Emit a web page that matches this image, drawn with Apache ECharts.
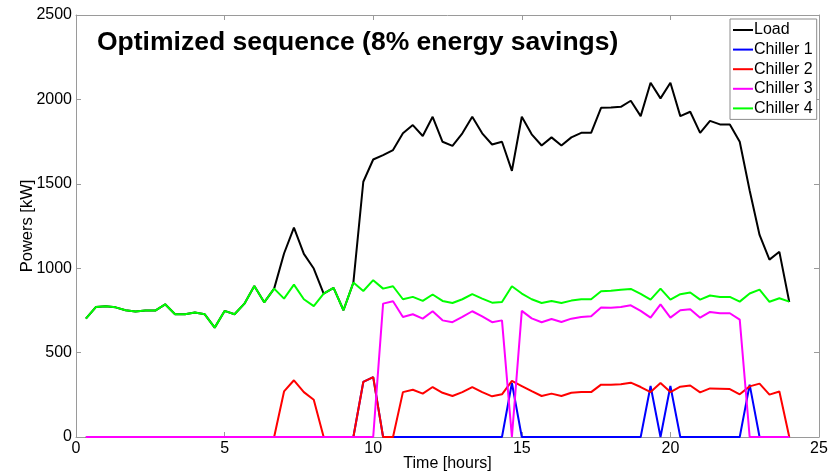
<!DOCTYPE html>
<html>
<head>
<meta charset="utf-8">
<script src="https://cdn.jsdelivr.net/npm/echarts@6/dist/echarts.min.js"></script>
<style>
html,body{margin:0;padding:0;background:#fff;}
#chart{width:838px;height:472px;}
</style>
</head>
<body>
<div id="chart"></div>
<script>
const hours = [0.333,0.667,1.000,1.333,1.667,2.000,2.333,2.667,3.000,3.333,3.667,4.000,
  4.333,4.667,5.000,5.333,5.667,6.000,6.333,6.667,7.000,7.333,7.667,8.000,
  8.333,8.667,9.000,9.333,9.667,10.000,10.333,10.667,11.000,11.333,11.667,12.000,
  12.333,12.667,13.000,13.333,13.667,14.000,14.333,14.667,15.000,15.333,15.667,16.000,
  16.333,16.667,17.000,17.333,17.667,18.000,18.333,18.667,19.000,19.333,19.667,20.000,
  20.333,20.667,21.000,21.333,21.667,22.000,22.333,22.667,23.000,23.333,23.667,24.000];

const load = [701,770,775,768,751,743,749,749,786,727,727,737,
  727,648,747,727,790,895,798,879,1087,1240,1085,998,
  850,883,751,915,1512,1644,1670,1700,1799,1848,1783,1897,
  1749,1725,1799,1897,1799,1733,1749,1577,1897,1793,1727,1775,
  1727,1775,1802,1802,1950,1952,1956,1992,1901,2099,2006,2099,
  1901,1927,1802,1873,1852,1852,1749,1460,1197,1051,1097,800];

const chiller1 = [0,0,0,0,0,0,0,0,0,0,0,0,
  0,0,0,0,0,0,0,0,0,0,0,0,
  0,0,0,0,326,355,0,0,0,0,0,0,
  0,0,0,0,0,0,0,320,0,0,0,0,
  0,0,0,0,0,0,0,0,0,302,0,302,
  0,0,0,0,0,0,0,310,0,0,0,0];

const chiller2 = [0,0,0,0,0,0,0,0,0,0,0,0,
  0,0,0,0,0,0,0,0,270,336,266,221,
  0,0,0,0,326,355,0,0,266,280,257,296,
  262,243,266,296,266,241,253,332,302,272,243,257,
  243,262,266,266,310,310,312,322,296,266,320,266,
  298,305,264,288,286,284,253,300,316,251,270,0];

const chiller3 = [0,0,0,0,0,0,0,0,0,0,0,0,
  0,0,0,0,0,0,0,0,0,0,0,0,
  0,0,0,0,0,0,790,804,711,727,701,745,
  691,680,711,745,715,680,691,0,747,703,680,699,
  681,701,711,715,767,765,770,780,747,707,786,707,
  751,757,707,741,733,733,695,0,0,0,0,0];

const chiller4 = [701,770,775,768,751,743,749,749,786,727,727,737,
  727,648,747,727,790,895,798,879,820,903,816,775,
  850,883,751,915,865,929,879,893,816,830,806,844,
  806,794,816,846,820,796,800,893,850,816,794,806,
  794,808,816,816,863,866,873,877,848,814,879,814,
  846,856,814,838,830,830,802,850,873,801,822,802];

const xTicks = [0, 5, 10, 15, 20, 25];
const yTicks = [0, 500, 1000, 1500, 2000, 2500];

const seriesNames = ['Load', 'Chiller 1', 'Chiller 2', 'Chiller 3', 'Chiller 4'];
const seriesData = [load, chiller1, chiller2, chiller3, chiller4];
const seriesColors = ['#000000', '#0000ff', '#ff0000', '#ff00ff', '#00ff00'];

const FONT = 'Liberation Sans, Arial, sans-serif';
const frame = '#9a9a9a';

const chart = echarts.init(document.getElementById('chart'), null, {renderer: 'canvas'});

function axisCommon(show, margin) {
  return {
    axisLine: {show: true, onZero: false, lineStyle: {color: frame, width: 1}},
    axisTick: {show: true, inside: true, length: 5, lineStyle: {color: frame}},
    splitLine: {show: false},
    axisLabel: {show: show, color: '#000', fontSize: 16, fontFamily: FONT, margin: margin,
      formatter: function (v) { return String(v); }}
  };
}

const option = {
  animation: false,
  backgroundColor: '#ffffff',
  title: {
    text: 'Optimized sequence (8% energy savings)',
    left: 97,
    top: 29,
    padding: 0,
    textStyle: {fontFamily: FONT, fontWeight: 'bold', fontSize: 26.5, color: '#000'}
  },
  legend: {
    orient: 'vertical',
    left: 730,
    top: 19,
    padding: [2, 4, 2, 3],
    icon: 'rect',
    itemWidth: 20,
    itemHeight: 2,
    itemGap: 1.6,
    backgroundColor: '#fff',
    borderColor: '#8c8c8c',
    borderWidth: 1,
    textStyle: {fontFamily: FONT, fontSize: 16, color: '#000', lineHeight: 18, padding: [0, 0, 0, -4]},
    data: seriesNames
  },
  grid: {left: 76, right: 19, top: 15, bottom: 35, containLabel: false, outerBoundsMode: 'none'},
  xAxis: [
    Object.assign({
      type: 'value', min: xTicks[0], max: xTicks[xTicks.length - 1], interval: 5,
      position: 'bottom',
      name: 'Time [hours]', nameLocation: 'middle', nameGap: 19, nameMoveOverlap: false,
      nameTextStyle: {fontFamily: FONT, fontSize: 16, color: '#000'}
    }, axisCommon(true, 4)),
    Object.assign({
      type: 'value', min: xTicks[0], max: xTicks[xTicks.length - 1], interval: 5,
      position: 'top'
    }, axisCommon(false, 4))
  ],
  yAxis: [
    Object.assign({
      type: 'value', min: yTicks[0], max: yTicks[yTicks.length - 1], interval: 500,
      position: 'left',
      name: 'Powers [kW]', nameLocation: 'middle', nameGap: 40, nameMoveOverlap: false,
      nameTextStyle: {fontFamily: FONT, fontSize: 16.5, color: '#000'}
    }, axisCommon(true, 4)),
    Object.assign({
      type: 'value', min: yTicks[0], max: yTicks[yTicks.length - 1], interval: 500,
      position: 'right'
    }, axisCommon(false, 4))
  ],
  series: seriesNames.map((name, i) => ({
    name: name,
    type: 'line',
    xAxisIndex: 0,
    yAxisIndex: 0,
    symbol: 'none',
    showSymbol: false,
    z: 2,
    lineStyle: {color: seriesColors[i], width: 2},
    itemStyle: {color: seriesColors[i]},
    data: hours.map((h, j) => [h, seriesData[i][j]])
  }))
};

chart.setOption(option);
</script>
</body>
</html>
